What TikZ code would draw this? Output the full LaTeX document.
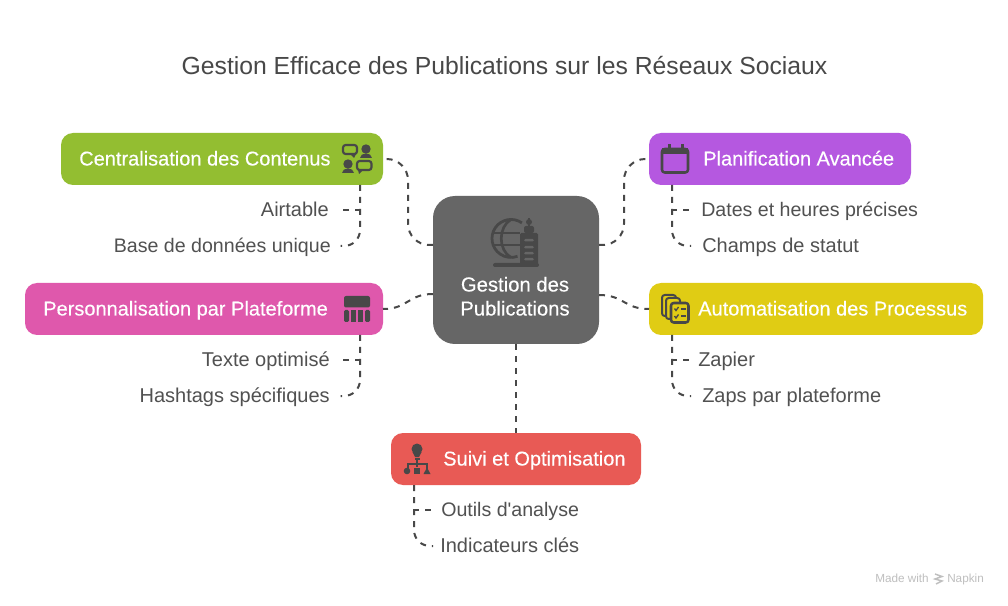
\documentclass[tikz,border=0pt]{standalone}
\usepackage{fontspec}
\setmainfont{Liberation Sans}
\newfontfamily\medfont[FakeBold=0.3]{Liberation Sans}
\newfontfamily\plainfont{Liberation Sans}
\usetikzlibrary{calc}
\definecolor{ink}{HTML}{484848}
\definecolor{cgreen}{HTML}{93BE31}
\definecolor{cpurple}{HTML}{B558E0}
\definecolor{cpink}{HTML}{DF58AC}
\definecolor{cyellow}{HTML}{E0CC14}
\definecolor{cred}{HTML}{E85A55}
\definecolor{ccenter}{HTML}{666666}
\definecolor{icon}{HTML}{484848}
\tikzset{
  x=0.75pt,y=-0.75pt,
  box/.style={rounded corners=9pt,inner sep=0pt,outer sep=0pt,minimum height=39pt,anchor=north west},
  head/.style={text=white,font=\medfont\fontsize{15}{17}\selectfont,inner sep=0pt,anchor=base west},
  item/.style={text=ink!95,font=\fontsize{15}{17}\selectfont,inner sep=0pt,anchor=base},
  itemn/.style={text=ink!95,font=\fontsize{14.7}{17}\selectfont,inner sep=0pt,anchor=base},
  conn/.style={draw=ink,line width=1.5pt,dash pattern=on 4.5pt off 4.5pt},
  ic/.style={fill=icon,draw=none},
  icl/.style={draw=icon,line width=1.5pt,fill=none,line join=round},
}
\begin{document}
\begin{tikzpicture}
\path[use as bounding box,fill=white] (0,0) rectangle (1008,606);
\node[text=ink,font=\fontsize{18.55}{20}\selectfont,inner sep=0pt,anchor=base] (title) at (504.5,74.5) {Gestion Efficace des Publications sur les Réseaux Sociaux};

% boxes
\node[box,fill=cgreen,minimum width=241.5pt] (green) at (61,133) {};
\node[box,fill=cpurple,minimum width=196.5pt] (purple) at (649,133) {};
\node[box,fill=cpink,minimum width=268.5pt] (pink) at (25,283) {};
\node[box,fill=cyellow,minimum width=250.5pt] (yellow) at (649,283) {};
\node[box,fill=cred,minimum width=187.5pt] (red) at (391,433) {};
\node[rounded corners=16.5pt,fill=ccenter,inner sep=0pt,outer sep=0pt,minimum width=124.5pt,minimum height=111pt,anchor=north west] (center) at (433,196) {};

% anchors on hub
\coordinate (cw1) at ($(center.west)+(0,-25)$);
\coordinate (ce1) at ($(center.east)+(0,-25)$);
\coordinate (ce2) at ($(center.east)+(0,25)$);
\coordinate (cw3) at ($(center.west)+(0,24)$);

% head labels
\node[head] (tgreen) at (79,165.5) {Centralisation des Contenus};
\node[head] (tpurple) at (703,165.5) {Planification Avancée};
\node[head] (tpink) at (43,315.5) {Personnalisation par Plateforme};
\node[head] (tyellow) at (698,315.5) {Automatisation des Processus};
\node[head] (tred) at (443,465.5) {Suivi et Optimisation};
\node[text=white,font=\medfont\fontsize{15.2}{17}\selectfont,inner sep=0pt,anchor=base] (tc1) at (515,291.5) {Gestion des};
\node[text=white,font=\medfont\fontsize{15.2}{17}\selectfont,inner sep=0pt,anchor=base] (tc2) at (515,315.5) {Publications};

% items
\node[item,anchor=base east] (a1) at (329,216.5) {Airtable};
\node[itemn,anchor=base east] (a2) at (331,252.5) {Base de données unique};
\node[itemn,anchor=base west] (b1) at (701,216.5) {Dates et heures précises};
\node[item,anchor=base west] (b2) at (702,252.5) {Champs de statut};
\node[item,anchor=base east] (c1) at (330,366.5) {Texte optimisé};
\node[item,anchor=base east] (c2) at (330,402.5) {Hashtags spécifiques};
\node[item,anchor=base west] (d1) at (698,366.5) {Zapier};
\node[item,anchor=base west] (d2) at (702,402.5) {Zaps par plateforme};
\node[itemn,anchor=base west] (e1) at (441,516.5) {\plainfont Outils d'analyse};
\node[item,anchor=base west] (e2) at (440,552.5) {Indicateurs clés};

% main connectors
\draw[conn,rounded corners=16pt] (cw1) -- ($(cw1)+(-25,0)$) -- ($(green.east)+(25,0)$) -- (green.east);
\draw[conn,rounded corners=16pt] (ce1) -- ($(ce1)+(25,0)$) -- ($(purple.west)+(-25,0)$) -- (purple.west);
\draw[conn] (cw3) .. controls ++(-25,0) and ($(pink.east)+(25,0)$) .. (pink.east);
\draw[conn] (ce2) .. controls ++(25,0) and ($(yellow.west)+(-25,0)$) .. (yellow.west);
\draw[conn] (center.south -| 516,0) -- (red.north -| 516,0);

% sub connectors
\coordinate (gs) at (360,185);\coordinate (ps) at (672,185);
\coordinate (ks) at (360,335);\coordinate (ys) at (672,335);
\coordinate (rs) at (414,485);
\draw[conn] (gs) -- ++(0,25) -- (342,210);
\draw[conn,rounded corners=12pt] (gs) -- (360,246) -- (340.5,246);
\draw[conn] (ps) -- ++(0,25) -- (690,210);
\draw[conn,rounded corners=12pt] (ps) -- (672,246) -- (691,246);
\draw[conn] (ks) -- ++(0,25) -- (342,360);
\draw[conn,rounded corners=12pt] (ks) -- (360,396) -- (340.5,396);
\draw[conn] (ys) -- ++(0,25) -- (690,360);
\draw[conn,rounded corners=12pt] (ys) -- (672,396) -- (691,396);
\draw[conn] (rs) -- ++(0,25) -- (432,510);
\draw[conn,rounded corners=12pt] (rs) -- (414,546) -- (433,546);

% icon: green (chat and people)
\draw[icl,line width=1.6pt,rounded corners=2pt] (343,145) rectangle (357,154);
\fill[icon] (350,154) -- (356,154) -- (354,158) -- cycle;
\fill[ic] (366,149) circle (4.7);
\fill[ic] (360,158.5) .. controls (360,152) and (372,152) .. (372,158.5) -- cycle;
\fill[ic] (348,164) circle (4.7);
\fill[ic] (342,173.5) .. controls (342,167) and (354,167) .. (354,173.5) -- cycle;
\draw[icl,line width=1.6pt,rounded corners=2pt,fill=cgreen] (357,161) rectangle (371.5,170);
\fill[icon] (358,170) -- (363,170) -- (359,174) -- cycle;

% icon: purple (calendar)
\draw[icl,line width=1.9pt,rounded corners=2pt] (662,149) rectangle (688,172.5);
\fill[ic] (662,148) rectangle (688,154.5);
\fill[ic] (668,144) rectangle (670.5,150);
\fill[ic] (681,144) rectangle (683.5,150);

% icon: pink (table)
\fill[ic,rounded corners=1.5pt] (344,296) rectangle (370,307.5);
\fill[ic,rounded corners=1pt] (344,310) rectangle (349,322);
\fill[ic] (351.3,310) rectangle (356,322);
\fill[ic] (358,310) rectangle (362.7,322);
\fill[ic,rounded corners=1pt] (365,310) rectangle (370,322);

% icon: yellow (stacked lists)
\draw[icl,line width=1.5pt,rounded corners=2pt] (662,295) rectangle (676,316);
\draw[icl,line width=1.5pt,fill=cyellow,rounded corners=2pt] (666,298) rectangle (680,319);
\draw[icl,line width=1.9pt,fill=cyellow,rounded corners=2pt] (671,303) rectangle (688.5,322.5);
\draw[icon,line width=1pt] (674.5,308.5) -- (676,310.5) -- (678.5,307);
\draw[icon,line width=1pt] (674.5,316) -- (676,318) -- (678.5,314.5);
\draw[icon,line width=1.1pt] (681,309) -- (685.5,309) (681,316) -- (685.5,316);

% icon: red (hierarchy)
\fill[ic] (417,449) circle (5.5);
\fill[ic] (412.5,452) -- (421.5,452) -- (419,457) -- (415,457) -- cycle;
\fill[ic] (414.5,458) rectangle (419.5,459.5);
\draw[icon,line width=1.5pt] (417,459) -- (417,467) (407.5,469) -- (407.5,463.5) -- (427,463.5) -- (427,469);
\fill[ic] (407,471) circle (3.3);
\fill[ic] (414,468) rectangle (420,474);
\fill[ic] (423.5,474) -- (430.5,474) -- (427,467.5) -- cycle;

% icon: hub (globe and tower)
\draw[icl,line width=2.1pt] (521.9,222.9) arc (-55:-290:19 and 19);
\draw[icl,line width=2pt] (511,219.5) .. controls (498,227) and (498,250) .. (511,257.5);
\draw[icl,line width=2pt] (493,233) -- (520,233) (493,245) -- (520,245);
\fill[ic,rounded corners=1pt] (520,233) rectangle (538,265);
\fill[ic,rounded corners=1.5pt] (524,226) rectangle (534,233);
\fill[ic] (529,222) circle (3);
\fill[ic] (527.8,218) rectangle (530.2,226);
\fill[ic,rounded corners=1.5pt] (493,263) rectangle (539,267);
\fill[ccenter,rounded corners=1pt] (524,239) rectangle (534,241.5);
\fill[ccenter,rounded corners=1pt] (524,246) rectangle (534,248.5);
\fill[ccenter,rounded corners=1pt] (524,252) rectangle (534,254.5);
\fill[ccenter,rounded corners=1pt] (524,258) rectangle (534,260.5);

% watermark
\node[text=ink!35,font=\fontsize{8.8}{10}\selectfont,inner sep=0pt,anchor=base west] (wm1) at (875,582) {Made with};
\node[text=ink!35,font=\fontsize{8.8}{10}\selectfont,inner sep=0pt,anchor=base west] (wm2) at (947,582) {Napkin};
\draw[ink!35,line width=1.1pt] (935,574) -- (942,576.5) -- (935,579) -- (942,581) -- (936,584);
\end{tikzpicture}
\end{document}
